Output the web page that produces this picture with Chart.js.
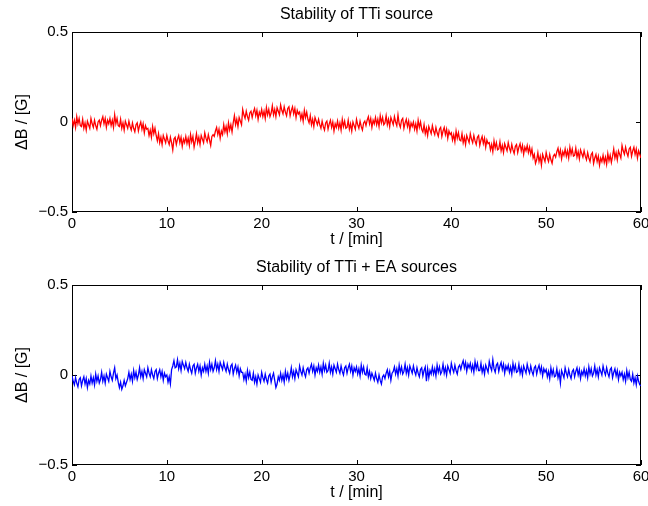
<!DOCTYPE html>
<html>
<head>
<meta charset="utf-8">
<script src="https://cdn.jsdelivr.net/npm/chart.js@4.4.1/dist/chart.umd.min.js"></script>
<style>
  body { margin: 0; background: #fff; }
  .plot { position: absolute; left: 0; width: 648px; height: 253px; }
</style>
</head>
<body>
<div class="plot" style="top:0"><canvas id="topChart" width="648" height="253"></canvas></div>
<div class="plot" style="top:253px"><canvas id="bottomChart" width="648" height="253"></canvas></div>
<script>
// sampling: one value every 0.125 min (8 per minute), 0..60 min
const tStep = 0.125;

// field drift of the TTi source alone [G], one row per minute
const ttiOnly = [
  0.02, -0.02, 0.01, -0.03, 0.03, -0.01, 0.02, -0.02,
  -0.025, 0.015, -0.035, -0.005, -0.045, 0.005, -0.015, -0.035,
  0.02, -0.01, -0.03, 0.01, -0.02, -0.04, 0.0, 0.01,
  -0.02, 0.01, 0.03, -0.01, 0.02, -0.03, 0.01, -0.01,
  0.02, -0.02, 0.01, -0.03, 0.04, -0.01, 0.02, -0.02,
  -0.025, 0.015, -0.035, -0.005, -0.045, 0.005, -0.015, -0.035,
  0.005, -0.025, -0.045, -0.005, -0.035, -0.055, -0.015, -0.005,
  -0.05, -0.02, 0.0, -0.04, -0.01, -0.06, -0.02, -0.04,
  -0.035, -0.075, -0.045, -0.085, -0.025, -0.065, -0.035, -0.075,
  -0.105, -0.065, -0.115, -0.085, -0.125, -0.075, -0.095, -0.115,
  -0.075, -0.105, -0.125, -0.085, -0.115, -0.155, -0.095, -0.085,
  -0.125, -0.095, -0.075, -0.115, -0.085, -0.135, -0.095, -0.115,
  -0.08, -0.12, -0.09, -0.13, -0.07, -0.11, -0.08, -0.14,
  -0.105, -0.065, -0.115, -0.085, -0.125, -0.075, -0.095, -0.115,
  -0.06, -0.09, -0.11, -0.07, -0.10, -0.13, -0.08, -0.07,
  -0.08, -0.05, -0.03, -0.07, -0.04, -0.09, -0.05, -0.07,
  -0.015, -0.055, -0.025, -0.065, -0.005, -0.045, -0.015, -0.055,
  -0.005, 0.035, -0.015, 0.015, -0.025, 0.025, 0.005, -0.015,
  0.07, 0.04, 0.02, 0.06, 0.03, 0.01, 0.05, 0.06,
  0.025, 0.055, 0.075, 0.035, 0.065, 0.015, 0.055, 0.035,
  0.07, 0.03, 0.06, 0.02, 0.08, 0.04, 0.07, 0.03,
  0.05, 0.09, 0.04, 0.07, 0.03, 0.08, 0.06, 0.04,
  0.095, 0.065, 0.045, 0.085, 0.055, 0.035, 0.075, 0.085,
  0.035, 0.065, 0.085, 0.045, 0.075, 0.025, 0.065, 0.045,
  0.055, 0.015, 0.045, 0.005, 0.065, 0.025, 0.055, 0.015,
  -0.005, 0.035, -0.015, 0.015, -0.025, 0.025, 0.005, -0.015,
  0.015, -0.015, -0.035, 0.005, -0.025, -0.045, -0.005, 0.005,
  -0.04, -0.01, 0.01, -0.03, 0.0, -0.05, -0.01, -0.03,
  0.005, -0.035, -0.005, -0.045, 0.015, -0.025, 0.005, -0.035,
  -0.03, 0.01, -0.04, -0.01, -0.05, 0.0, -0.02, -0.04,
  0.015, -0.015, -0.035, 0.005, -0.025, -0.045, -0.005, 0.005,
  -0.02, 0.01, 0.03, -0.01, 0.02, -0.03, 0.01, -0.01,
  0.025, -0.015, 0.015, -0.025, 0.035, -0.005, 0.025, -0.015,
  -0.005, 0.035, -0.015, 0.015, -0.025, 0.025, 0.005, -0.015,
  0.03, 0.0, -0.02, 0.04, -0.01, -0.03, 0.01, 0.02,
  -0.035, -0.005, 0.015, -0.025, 0.005, -0.045, -0.005, -0.025,
  0.0, -0.04, -0.01, -0.05, 0.01, -0.03, 0.0, -0.04,
  -0.055, -0.015, -0.065, -0.035, -0.075, -0.025, -0.045, -0.065,
  -0.02, -0.05, -0.07, -0.03, -0.06, -0.08, -0.04, -0.03,
  -0.08, -0.05, -0.03, -0.07, -0.04, -0.09, -0.05, -0.07,
  -0.06, -0.10, -0.07, -0.11, -0.05, -0.09, -0.06, -0.10,
  -0.105, -0.065, -0.115, -0.085, -0.125, -0.075, -0.095, -0.115,
  -0.065, -0.095, -0.115, -0.075, -0.105, -0.125, -0.085, -0.075,
  -0.13, -0.10, -0.08, -0.12, -0.09, -0.14, -0.10, -0.12,
  -0.115, -0.155, -0.125, -0.165, -0.105, -0.145, -0.115, -0.155,
  -0.15, -0.11, -0.16, -0.13, -0.17, -0.12, -0.14, -0.16,
  -0.115, -0.145, -0.165, -0.125, -0.155, -0.175, -0.135, -0.125,
  -0.17, -0.14, -0.12, -0.16, -0.13, -0.18, -0.14, -0.16,
  -0.13, -0.17, -0.14, -0.18, -0.15, -0.20, -0.18, -0.23,
  -0.21, -0.17, -0.22, -0.19, -0.24, -0.18, -0.20, -0.22,
  -0.17, -0.20, -0.22, -0.18, -0.21, -0.23, -0.19, -0.18,
  -0.195, -0.165, -0.145, -0.185, -0.155, -0.205, -0.165, -0.185,
  -0.15, -0.19, -0.16, -0.20, -0.14, -0.18, -0.15, -0.19,
  -0.185, -0.145, -0.195, -0.165, -0.205, -0.155, -0.175, -0.195,
  -0.16, -0.19, -0.21, -0.17, -0.20, -0.22, -0.18, -0.17,
  -0.23, -0.20, -0.18, -0.22, -0.19, -0.24, -0.20, -0.22,
  -0.185, -0.225, -0.195, -0.235, -0.175, -0.215, -0.185, -0.225,
  -0.19, -0.15, -0.20, -0.17, -0.21, -0.16, -0.18, -0.20,
  -0.13, -0.16, -0.18, -0.14, -0.17, -0.19, -0.15, -0.14,
  -0.19, -0.16, -0.14, -0.18, -0.15, -0.20, -0.16, -0.18,
  -0.20
];

// field drift with TTi + EA sources together [G], one row per minute
const ttiPlusEa = [
  -0.005, -0.035, -0.055, -0.015, -0.045, -0.065, -0.025, -0.015,
  -0.06, -0.03, -0.01, -0.05, -0.02, -0.07, -0.03, -0.05,
  -0.005, -0.045, -0.015, -0.055, 0.005, -0.035, -0.005, -0.045,
  -0.025, 0.015, -0.035, -0.005, -0.045, 0.005, -0.015, -0.035,
  0.02, -0.01, -0.03, 0.01, 0.04, -0.02, 0.0, -0.04,
  -0.07, -0.04, -0.08, -0.06, -0.03, -0.06, -0.04, -0.02,
  0.015, -0.025, 0.005, -0.035, 0.025, -0.015, 0.015, -0.025,
  0.0, 0.04, -0.01, 0.02, -0.02, 0.03, 0.01, -0.01,
  0.04, 0.01, -0.01, 0.03, 0.0, -0.02, 0.02, 0.03,
  -0.02, 0.01, 0.03, -0.01, 0.02, -0.03, 0.01, -0.01,
  0.0, -0.04, -0.01, -0.05, 0.03, 0.05, 0.08, 0.04,
  0.045, 0.085, 0.035, 0.065, 0.025, 0.075, 0.055, 0.035,
  0.07, 0.04, 0.02, 0.06, 0.03, 0.01, 0.05, 0.06,
  0.01, 0.04, 0.06, 0.02, 0.05, 0.0, 0.04, 0.02,
  0.06, 0.02, 0.05, 0.01, 0.07, 0.03, 0.06, 0.02,
  0.04, 0.08, 0.03, 0.06, 0.02, 0.07, 0.05, 0.03,
  0.07, 0.04, 0.02, 0.06, 0.03, 0.01, 0.05, 0.06,
  0.005, 0.035, 0.055, 0.015, 0.045, -0.005, 0.035, 0.015,
  0.015, -0.025, 0.005, -0.035, 0.025, -0.015, 0.015, -0.025,
  -0.03, 0.01, -0.04, -0.01, -0.05, 0.0, -0.02, -0.04,
  0.015, -0.015, -0.035, 0.005, -0.025, -0.045, -0.005, 0.005,
  -0.04, -0.01, 0.01, -0.03, -0.07, -0.05, -0.01, -0.03,
  0.01, -0.03, 0.0, -0.04, 0.02, -0.02, 0.01, -0.03,
  0.0, 0.04, -0.01, 0.02, -0.02, 0.03, 0.01, -0.01,
  0.05, 0.02, 0.0, 0.04, 0.01, -0.01, 0.03, 0.04,
  0.01, 0.04, 0.06, 0.02, 0.05, 0.0, 0.04, 0.02,
  0.055, 0.015, 0.045, 0.005, 0.065, 0.025, 0.055, 0.015,
  0.025, 0.065, 0.015, 0.045, 0.005, 0.055, 0.035, 0.015,
  0.06, 0.03, 0.01, 0.05, 0.02, 0.0, 0.04, 0.05,
  0.01, 0.04, 0.06, 0.02, 0.05, 0.0, 0.04, 0.02,
  0.045, 0.005, 0.035, -0.005, 0.055, 0.015, 0.045, 0.005,
  0.0, 0.04, -0.01, 0.02, -0.02, 0.01, -0.01, -0.03,
  0.01, -0.02, -0.04, 0.0, -0.03, -0.05, -0.01, 0.0,
  -0.02, 0.01, 0.03, -0.01, 0.02, -0.03, 0.01, 0.02,
  0.045, 0.005, 0.035, -0.005, 0.055, 0.015, 0.045, 0.005,
  0.02, 0.06, 0.01, 0.04, 0.0, 0.05, 0.03, 0.01,
  0.05, 0.02, 0.0, 0.04, 0.01, -0.01, 0.03, 0.04,
  -0.005, 0.025, 0.045, -0.035, 0.035, -0.015, 0.025, 0.005,
  0.045, 0.005, 0.035, -0.005, 0.055, 0.015, 0.045, 0.005,
  0.02, 0.06, 0.01, 0.04, 0.0, 0.05, 0.03, 0.01,
  0.065, 0.035, 0.015, 0.055, 0.025, 0.005, 0.045, 0.055,
  0.03, 0.06, 0.08, 0.04, 0.07, 0.02, 0.06, 0.04,
  0.065, 0.025, 0.055, 0.015, 0.075, 0.035, 0.065, 0.025,
  0.025, 0.065, 0.015, 0.045, 0.005, 0.055, 0.035, 0.015,
  0.075, 0.045, 0.025, 0.085, 0.035, 0.015, 0.055, 0.065,
  0.02, 0.05, 0.07, 0.03, 0.06, 0.01, 0.05, 0.03,
  0.055, 0.015, 0.045, 0.005, 0.065, 0.025, 0.055, 0.015,
  0.02, 0.06, 0.01, 0.04, 0.0, 0.05, 0.03, 0.01,
  0.06, 0.03, 0.01, 0.05, 0.02, 0.0, 0.04, 0.05,
  0.005, 0.035, 0.055, 0.015, 0.045, -0.005, 0.035, 0.015,
  0.03, -0.01, 0.02, -0.02, 0.04, 0.0, 0.03, -0.01,
  -0.005, 0.035, -0.015, 0.015, -0.045, 0.025, 0.005, -0.015,
  0.04, 0.01, -0.01, 0.03, 0.0, -0.02, 0.02, 0.03,
  -0.01, 0.02, 0.04, 0.0, 0.03, -0.02, 0.02, 0.0,
  0.035, -0.005, 0.025, -0.015, 0.045, 0.005, 0.035, -0.005,
  0.01, 0.05, 0.0, 0.03, -0.01, 0.04, 0.02, 0.0,
  0.05, 0.02, 0.0, 0.04, 0.01, -0.01, 0.03, 0.04,
  -0.015, 0.015, 0.035, -0.005, 0.025, -0.025, 0.015, -0.005,
  0.015, -0.025, 0.005, -0.035, 0.025, -0.015, 0.015, -0.025,
  -0.035, 0.005, -0.045, -0.015, -0.055, -0.005, -0.035, -0.055,
  -0.06
];

const xTicks = [0, 10, 20, 30, 40, 50, 60];
const yTicks = [-0.5, 0, 0.5];
const yTickLabels = ['\u22120.5', '0', '0.5'];

const fontFamily = '"Liberation Sans", Arial, Helvetica, sans-serif';

// MATLAB style box with inward ticks
const boxTicks = {
  id: 'boxTicks',
  beforeDatasetsDraw(chart) {
    const { ctx, chartArea: a, scales: { x, y } } = chart;
    const len = 5;
    ctx.save();
    ctx.strokeStyle = '#000';
    ctx.lineWidth = 1;
    ctx.strokeRect(Math.round(a.left) + 0.5, Math.round(a.top) + 0.5,
                   Math.round(a.width) - 1, Math.round(a.height) - 1);
    ctx.beginPath();
    xTicks.forEach(v => {
      const px = Math.round(x.getPixelForValue(v)) + 0.5;
      ctx.moveTo(px, a.bottom); ctx.lineTo(px, a.bottom - len);
      ctx.moveTo(px, a.top); ctx.lineTo(px, a.top + len);
    });
    yTicks.forEach(v => {
      const py = Math.round(y.getPixelForValue(v)) + 0.5;
      ctx.moveTo(a.left, py); ctx.lineTo(a.left + len, py);
      ctx.moveTo(a.right, py); ctx.lineTo(a.right - len, py);
    });
    ctx.stroke();
    ctx.restore();
  }
};

function makeChart(id, title, values, color) {
  const points = values.map((v, i) => ({ x: i * tStep, y: v }));
  return new Chart(document.getElementById(id), {
    type: 'line',
    data: {
      datasets: [{
        data: points,
        borderColor: color,
        borderWidth: 1.3,
        pointRadius: 0,
        tension: 0
      }]
    },
    options: {
      responsive: false,
      animation: false,
      events: [],
      layout: { autoPadding: false, padding: { left: 0, right: 7, top: 0, bottom: 0 } },
      plugins: {
        legend: { display: false },
        tooltip: { enabled: false },
        title: {
          display: true,
          fullSize: false, // centre over the plot box, like MATLAB
          text: title,
          color: '#000',
          font: { family: fontFamily, size: 16, weight: 'normal' },
          padding: { top: 5, bottom: 7.8 }
        }
      },
      scales: {
        x: {
          type: 'linear',
          min: 0,
          max: 60,
          afterBuildTicks: s => { s.ticks = xTicks.map(v => ({ value: v })); },
          afterFit: s => { s.height = 41; s.paddingLeft = 0; s.paddingRight = 0; },
          grid: { display: false, drawTicks: false },
          border: { display: false },
          ticks: { color: '#000', font: { family: fontFamily, size: 15 }, padding: 3, maxRotation: 0 },
          title: {
            display: true,
            text: 't / [min]',
            color: '#000',
            font: { family: fontFamily, size: 16 },
            padding: { top: 0, bottom: 3.4 }
          }
        },
        y: {
          type: 'linear',
          min: -0.5,
          max: 0.5,
          afterBuildTicks: s => { s.ticks = yTicks.map(v => ({ value: v })); },
          afterFit: s => { s.width = 72; s.paddingTop = 0; s.paddingBottom = 0; },
          grid: { display: false, drawTicks: false },
          border: { display: false },
          ticks: {
            color: '#000',
            font: { family: fontFamily, size: 15 },
            padding: 4,
            callback: v => yTickLabels[yTicks.indexOf(v)]
          },
          title: {
            display: true,
            text: '\u0394B / [G]',
            color: '#000',
            font: { family: fontFamily, size: 16 },
            padding: { top: 13, bottom: 0 }
          }
        }
      }
    },
    plugins: [boxTicks]
  });
}

makeChart('topChart', 'Stability of TTi source', ttiOnly, '#ff0000');
makeChart('bottomChart', 'Stability of TTi + EA sources', ttiPlusEa, '#0000ff');
</script>
</body>
</html>
